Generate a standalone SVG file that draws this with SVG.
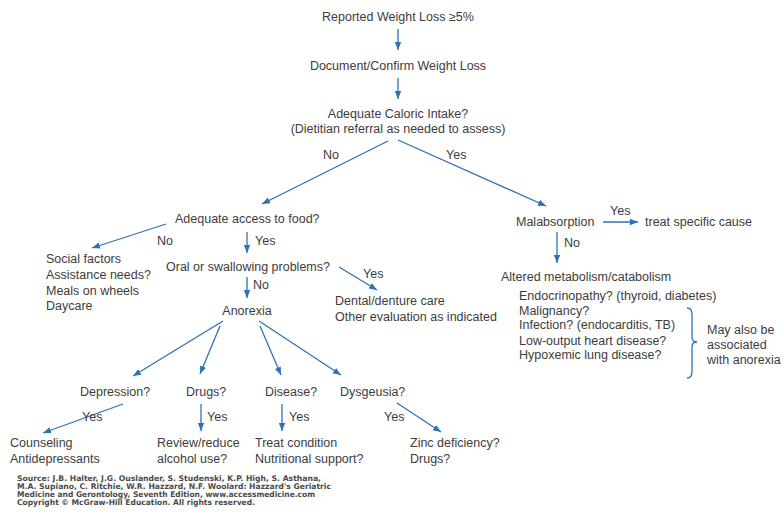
<svg xmlns="http://www.w3.org/2000/svg" width="783" height="514" viewBox="0 0 783 514">
<style>
text{font-family:"Liberation Sans",Arial,sans-serif;font-size:12.5px;fill:#3c3c3c}
.c{text-anchor:middle}
.src{font-family:"DejaVu Sans",Verdana,sans-serif;font-size:7.8px;font-weight:bold;fill:#4a4a4a}
.ln{stroke:#2f72b3;stroke-width:1.3;fill:none}
</style>
<defs>
<marker id="ah" markerUnits="userSpaceOnUse" markerWidth="9" markerHeight="8" refX="8" refY="4" orient="auto">
<path d="M0,0.8 L8,4 L0,7.2 Z" fill="#2f72b3"/>
</marker>
</defs>
<rect width="783" height="514" fill="#fff"/>
<g id="connectors">
<line class="ln" x1="398" y1="29" x2="398" y2="50" marker-end="url(#ah)"/>
<line class="ln" x1="398" y1="78" x2="398" y2="99" marker-end="url(#ah)"/>
<line class="ln" x1="388" y1="141" x2="262" y2="204" marker-end="url(#ah)"/>
<line class="ln" x1="398" y1="140" x2="546" y2="206" marker-end="url(#ah)"/>
<line class="ln" x1="166" y1="224" x2="92" y2="248" marker-end="url(#ah)"/>
<line class="ln" x1="247" y1="232" x2="247" y2="253" marker-end="url(#ah)"/>
<line class="ln" x1="339" y1="267" x2="377" y2="290" marker-end="url(#ah)"/>
<line class="ln" x1="247" y1="277" x2="247" y2="298" marker-end="url(#ah)"/>
<line class="ln" x1="223" y1="321" x2="133" y2="376" marker-end="url(#ah)"/>
<line class="ln" x1="220" y1="326" x2="200" y2="374" marker-end="url(#ah)"/>
<line class="ln" x1="260" y1="326" x2="281" y2="375" marker-end="url(#ah)"/>
<line class="ln" x1="259" y1="321" x2="341" y2="375" marker-end="url(#ah)"/>
<line class="ln" x1="123" y1="404" x2="43" y2="433" marker-end="url(#ah)"/>
<line class="ln" x1="201" y1="404" x2="201" y2="431" marker-end="url(#ah)"/>
<line class="ln" x1="282" y1="404" x2="282" y2="431" marker-end="url(#ah)"/>
<line class="ln" x1="397" y1="403" x2="441" y2="432" marker-end="url(#ah)"/>
<line class="ln" x1="603" y1="222" x2="638" y2="222" marker-end="url(#ah)"/>
<line class="ln" x1="557" y1="232" x2="557" y2="263" marker-end="url(#ah)"/>
<path class="ln" d="M687,308 Q692,308 692,314 L692,337 Q692,342 697,342 Q692,342 692,347 L692,372 Q692,378 687,378"/>
</g>
<g id="labels">
<text x="323" y="159">No</text>
<text x="446" y="159">Yes</text>
<text x="157" y="245">No</text>
<text x="255" y="245">Yes</text>
<text x="363" y="278">Yes</text>
<text x="253" y="289">No</text>
<text x="82" y="421">Yes</text>
<text x="207" y="421">Yes</text>
<text x="289" y="421">Yes</text>
<text x="384" y="421">Yes</text>
<text x="610" y="215">Yes</text>
<text x="564" y="247">No</text>
</g>
<g id="n-reported"><text class="c" x="398" y="21">Reported Weight Loss ≥5%</text></g>
<g id="n-document"><text class="c" x="398" y="70">Document/Confirm Weight Loss</text></g>
<g id="n-caloric"><text class="c" x="398" y="118">Adequate Caloric Intake?</text><text class="c" x="398" y="133">(Dietitian referral as needed to assess)</text></g>
<g id="n-access"><text x="175" y="223">Adequate access to food?</text></g>
<g id="n-social"><text x="46" y="263">Social factors</text><text x="46" y="279">Assistance needs?</text><text x="46" y="295">Meals on wheels</text><text x="46" y="310">Daycare</text></g>
<g id="n-oral"><text x="166" y="271">Oral or swallowing problems?</text></g>
<g id="n-dental"><text x="335" y="305">Dental/denture care</text><text x="335" y="321">Other evaluation as indicated</text></g>
<g id="n-anorexia"><text class="c" x="247" y="315">Anorexia</text></g>
<g id="n-depression"><text x="80" y="396">Depression?</text></g>
<g id="n-drugs"><text x="186" y="396">Drugs?</text></g>
<g id="n-disease"><text x="265" y="396">Disease?</text></g>
<g id="n-dysgeusia"><text x="340" y="396">Dysgeusia?</text></g>
<g id="n-counseling"><text x="10" y="447">Counseling</text><text x="10" y="463">Antidepressants</text></g>
<g id="n-review"><text x="157" y="447">Review/reduce</text><text x="157" y="463">alcohol use?</text></g>
<g id="n-treat"><text x="255" y="447">Treat condition</text><text x="255" y="463">Nutritional support?</text></g>
<g id="n-zinc"><text x="410" y="447">Zinc deficiency?</text><text x="410" y="463">Drugs?</text></g>
<g id="n-malabsorption"><text x="516" y="226">Malabsorption</text></g>
<g id="n-treatcause"><text x="645" y="226">treat specific cause</text></g>
<g id="n-altered"><text x="501" y="281">Altered metabolism/catabolism</text>
<text x="519" y="300">Endocrinopathy? (thyroid, diabetes)</text>
<text x="519" y="315">Malignancy?</text>
<text x="519" y="329">Infection? (endocarditis, TB)</text>
<text x="519" y="345">Low-output heart disease?</text>
<text x="519" y="359">Hypoxemic lung disease?</text></g>
<g id="n-note"><text x="707" y="334">May also be</text><text x="707" y="349">associated</text><text x="707" y="364">with anorexia</text></g>
<g id="source">
<text class="src" x="17" y="481" textLength="304" lengthAdjust="spacingAndGlyphs">Source: J.B. Halter, J.G. Ouslander, S. Studenski, K.P. High, S. Asthana,</text>
<text class="src" x="17" y="489" textLength="314" lengthAdjust="spacingAndGlyphs">M.A. Supiano, C. Ritchie, W.R. Hazzard, N.F. Woolard: Hazzard's Geriatric</text>
<text class="src" x="17" y="497" textLength="298" lengthAdjust="spacingAndGlyphs">Medicine and Gerontology, Seventh Edition, www.accessmedicine.com</text>
<text class="src" x="17" y="505" textLength="238" lengthAdjust="spacingAndGlyphs">Copyright © McGraw-Hill Education. All rights reserved.</text>
</g>
</svg>
